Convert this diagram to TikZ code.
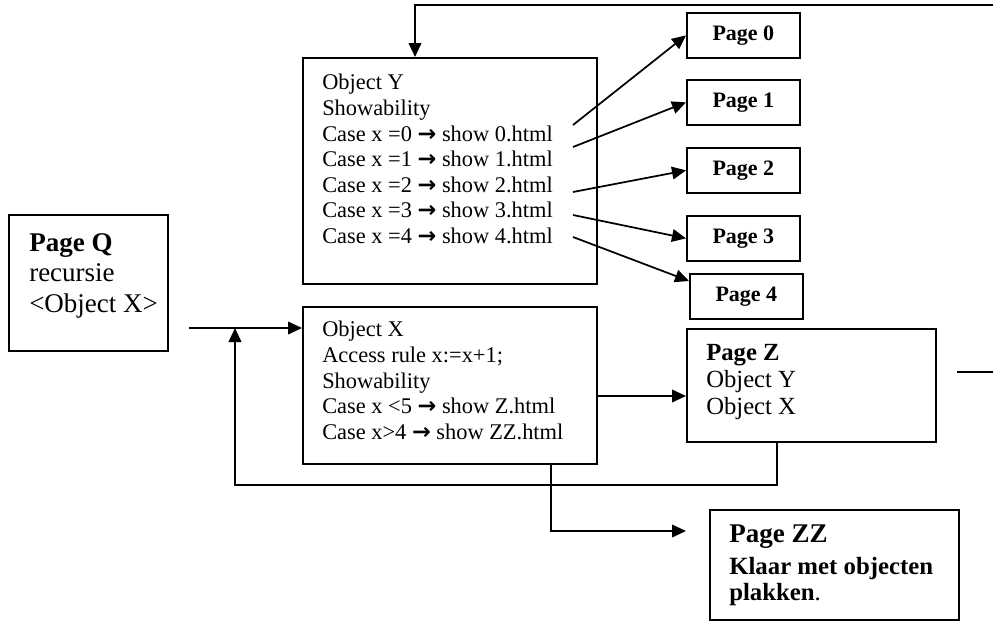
\documentclass[tikz,border=0pt]{standalone}
\usepackage{fontspec}
\setmainfont{Liberation Serif}
\newfontfamily\pijlfont{DejaVu Sans}
\newcommand{\pijl}{{\pijlfont\bfseries\symbol{"2192}}}
\usetikzlibrary{arrows.meta,positioning}

\tikzset{
  box/.style={draw, line width=1.3pt, rectangle, inner sep=0pt, anchor=north west},
  pagebox/.style={box, minimum width=84.75pt, minimum height=33.75pt,
                  font=\bfseries\fontsize{16.5}{19}\selectfont},
  txt/.style={inner sep=0pt, anchor=north west, align=left,
              font=\fontsize{16.8}{19.2}\selectfont},
  conn/.style={line width=1.3pt, -{Triangle[length=10.5pt,width=9.5pt]}},
  plain/.style={line width=1.3pt}
}

\begin{document}
\begin{tikzpicture}[x=0.75pt,y=-0.75pt]
   \useasboundingbox (0,0) rectangle (993,621);

   % boxes
   \node[box, minimum width=119.25pt, minimum height=102pt] (pageq) at (8,214) {};
   \node[box, minimum width=220.5pt, minimum height=169.5pt] (objy) at (302,57) {};
   \node[box, minimum width=220.5pt, minimum height=117.75pt] (objx) at (302,306) {};
   \node[box, minimum width=186.75pt, minimum height=84.75pt] (pagez) at (686,328) {};
   \node[box, minimum width=186.75pt, minimum height=82.5pt] (pagezz) at (709,509) {};
   \foreach \i/\x/\y in {0/686/12, 1/686/79, 2/686/147, 3/686/215, 4/689/273}
      \node[pagebox] (p\i) at (\x,\y) {Page \i};

   % texts
   \node[txt, font=\fontsize{20.25}{22.9}\selectfont] (pageqtxt) at (29,233)
      {\textbf{Page Q}\\recursie\\<Object X>};
   \node[txt] (objytxt) at (322,74)
      {Object Y\\Showability\\
       Case x =0 \pijl{} show 0.html\\
       Case x =1 \pijl{} show 1.html\\
       Case x =2 \pijl{} show 2.html\\
       Case x =3 \pijl{} show 3.html\\
       Case x =4 \pijl{} show 4.html};
   \node[txt] (objxtxt) at (322,321)
      {Object X\\Access rule x:=x+1;\\Showability\\
       Case x <5 \pijl{} show Z.html\\
       Case x>4 \pijl{} show ZZ.html};
   \node[txt, font=\fontsize{18.5}{20.3}\selectfont] (pageztxt) at (706,344)
      {\textbf{Page Z}\\Object Y\\Object X};
   \node[txt, font=\fontsize{18.6}{19.6}\selectfont] (pagezztxt) at (729,525)
      {{\fontsize{20.25}{22}\selectfont\bfseries Page ZZ}\\[4pt]
       \textbf{Klaar met objecten}\\\textbf{plakken}.};

   % connector ends
   \coordinate (topr) at (993,5);
   \coordinate (qout) at (189,328);
   \coordinate (merge) at (235,328);
   \coordinate (loop) at (235,485);
   \coordinate (zzin) at (686,531);
   \coordinate (zr1) at (957,372);
   \coordinate (zr2) at (993,372);
   \coordinate (a0) at (573,125);
   \coordinate (a1) at (573,147);
   \coordinate (a2) at (573,192);
   \coordinate (a3) at (573,215);
   \coordinate (a4) at (573,237);

   % connectors
   \draw[conn] (topr) -| ([xshift=84.75pt]objy.north west);
   \draw[conn] (a0) -- (p0.west);
   \draw[conn] (a1) -- (p1.west);
   \draw[conn] (a2) -- (p2.west);
   \draw[conn] (a3) -- (p3.west);
   \draw[conn] (a4) -- ([yshift=-6pt]p4.north west);
   \draw[conn] (qout) -- ([yshift=-16.5pt]objx.north west);
   \draw[conn] ([xshift=68.25pt]pagez.south west) |- (loop) -- (merge);
   \draw[conn] ([yshift=-67.5pt]objx.north east) -- ([yshift=-67.5pt]objx.north east -| pagez.west);
   \draw[conn] ([xshift=186.75pt]objx.south west) |- (zzin);
   \draw[plain] (zr1) -- (zr2);

 \end{tikzpicture}
\end{document}
